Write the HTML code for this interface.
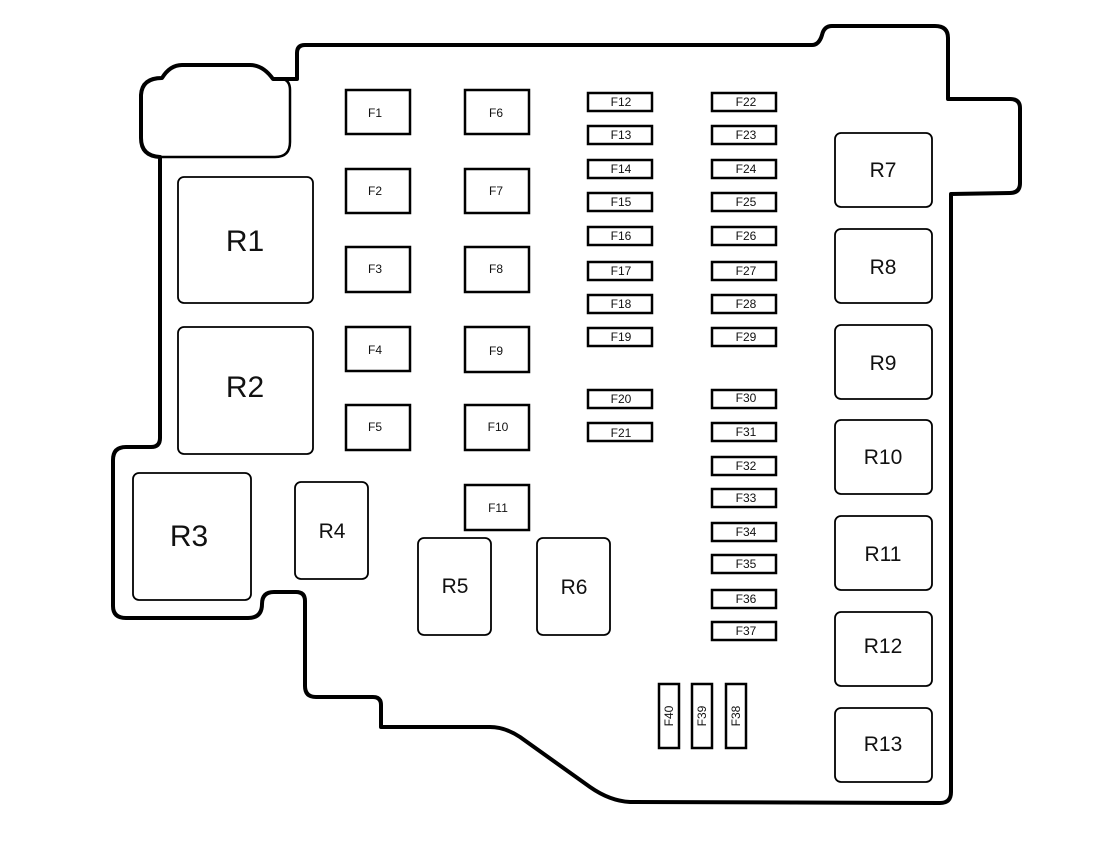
<!DOCTYPE html>
<html><head><meta charset="utf-8"><style>
html,body{margin:0;padding:0;background:#fff;}
svg text{font-family:"Liberation Sans",sans-serif;fill:#111;}
</style></head><body>
<svg width="1107" height="846" viewBox="0 0 1107 846" xmlns="http://www.w3.org/2000/svg">
<g fill="none" stroke="#000" stroke-linejoin="round">
<path stroke-width="4" d="M160 157 L160 438 Q160 447 151 447 L126 447 Q113 447 113 460 L113 606 Q113 618 126 618 L248 618 Q262 618 262 604 Q262 592 274 592 L296 592 Q305 592 305 601 L305 686 Q305 697 316 697 L373 697 Q381 697 381 705 L381 727 L490 727 Q505 727 520 737 L590 787 Q610 801 630 802 L940 803 Q951 803 951 792 L951 194 L1010 193 Q1020 193 1020 183 L1020 108 Q1020 99 1010 99 L948 99 L948 38 Q948 26 935 26 L832 26 Q824 26 822 35 Q819 45 812 45 L305 45 Q297 45 297 53 L297 79 L273 79 Q263 65 250 65 L182 65 Q170 65 162 78 Q142 78 141 95 L141 138 Q141 156 160 157 Z"/>
<path stroke-width="2.5" d="M160 157 L275 157 Q290 157 290 142 L290 90 Q290 80 282 79"/>
</g>
<g fill="#fff" stroke="#000" stroke-width="1.8">
<rect x="178" y="177" width="135" height="126" rx="6"/>
<rect x="178" y="327" width="135" height="127" rx="6"/>
<rect x="133" y="473" width="118" height="127" rx="6"/>
<rect x="295" y="482" width="73" height="97" rx="6"/>
<rect x="418" y="538" width="73" height="97" rx="6"/>
<rect x="537" y="538" width="73" height="97" rx="6"/>
<rect x="835" y="133" width="97" height="74" rx="6"/>
<rect x="835" y="229" width="97" height="74" rx="6"/>
<rect x="835" y="325" width="97" height="74" rx="6"/>
<rect x="835" y="420" width="97" height="74" rx="6"/>
<rect x="835" y="516" width="97" height="74" rx="6"/>
<rect x="835" y="612" width="97" height="74" rx="6"/>
<rect x="835" y="708" width="97" height="74" rx="6"/>
</g>
<g font-size="30" text-anchor="middle">
<text x="245" y="251">R1</text>
<text x="245" y="397">R2</text>
<text x="189" y="546">R3</text>
</g>
<g font-size="21" text-anchor="middle">
<text x="332" y="538">R4</text>
<text x="455" y="593">R5</text>
<text x="574" y="594">R6</text>
<text x="883" y="177">R7</text>
<text x="883" y="274">R8</text>
<text x="883" y="370">R9</text>
<text x="883" y="464">R10</text>
<text x="883" y="561">R11</text>
<text x="883" y="653">R12</text>
<text x="883" y="751">R13</text>
</g>
<g fill="#fff" stroke="#000" stroke-width="2.5">
<rect x="346" y="90" width="64" height="44"/>
<rect x="346" y="169" width="64" height="44"/>
<rect x="346" y="247" width="64" height="45"/>
<rect x="346" y="327" width="64" height="44"/>
<rect x="346" y="405" width="64" height="45"/>
<rect x="465" y="90" width="64" height="44"/>
<rect x="465" y="169" width="64" height="44"/>
<rect x="465" y="247" width="64" height="45"/>
<rect x="465" y="327" width="64" height="45"/>
<rect x="465" y="405" width="64" height="45"/>
<rect x="465" y="485" width="64" height="45"/>
<rect x="588" y="93" width="64" height="18"/>
<rect x="588" y="126" width="64" height="18"/>
<rect x="588" y="160" width="64" height="18"/>
<rect x="588" y="193" width="64" height="18"/>
<rect x="588" y="227" width="64" height="18"/>
<rect x="588" y="262" width="64" height="18"/>
<rect x="588" y="295" width="64" height="18"/>
<rect x="588" y="328" width="64" height="18"/>
<rect x="588" y="390" width="64" height="18"/>
<rect x="588" y="423" width="64" height="18"/>
<rect x="712" y="93" width="64" height="18"/>
<rect x="712" y="126" width="64" height="18"/>
<rect x="712" y="160" width="64" height="18"/>
<rect x="712" y="193" width="64" height="18"/>
<rect x="712" y="227" width="64" height="18"/>
<rect x="712" y="262" width="64" height="18"/>
<rect x="712" y="295" width="64" height="18"/>
<rect x="712" y="328" width="64" height="18"/>
<rect x="712" y="390" width="64" height="18"/>
<rect x="712" y="423" width="64" height="18"/>
<rect x="712" y="457" width="64" height="18"/>
<rect x="712" y="489" width="64" height="18"/>
<rect x="712" y="523" width="64" height="18"/>
<rect x="712" y="555" width="64" height="18"/>
<rect x="712" y="590" width="64" height="18"/>
<rect x="712" y="622" width="64" height="18"/>
<rect x="659" y="684" width="20" height="64"/>
<rect x="692" y="684" width="20" height="64"/>
<rect x="726" y="684" width="20" height="64"/>
</g>
<g font-size="12" text-anchor="middle">
<text x="375" y="117">F1</text>
<text x="375" y="195">F2</text>
<text x="375" y="273">F3</text>
<text x="375" y="354">F4</text>
<text x="375" y="431">F5</text>
<text x="496" y="117">F6</text>
<text x="496" y="195">F7</text>
<text x="496" y="273">F8</text>
<text x="496" y="355">F9</text>
<text x="498" y="431">F10</text>
<text x="498" y="512">F11</text>
<text x="621" y="106">F12</text>
<text x="621" y="139">F13</text>
<text x="621" y="173">F14</text>
<text x="621" y="206">F15</text>
<text x="621" y="240">F16</text>
<text x="621" y="275">F17</text>
<text x="621" y="308">F18</text>
<text x="621" y="341">F19</text>
<text x="621" y="403">F20</text>
<text x="621" y="437">F21</text>
<text x="746" y="106">F22</text>
<text x="746" y="139">F23</text>
<text x="746" y="173">F24</text>
<text x="746" y="206">F25</text>
<text x="746" y="240">F26</text>
<text x="746" y="275">F27</text>
<text x="746" y="308">F28</text>
<text x="746" y="341">F29</text>
<text x="746" y="402">F30</text>
<text x="746" y="436">F31</text>
<text x="746" y="470">F32</text>
<text x="746" y="502">F33</text>
<text x="746" y="536">F34</text>
<text x="746" y="568">F35</text>
<text x="746" y="603">F36</text>
<text x="746" y="635">F37</text>
<text transform="translate(673,716) rotate(-90)">F40</text>
<text transform="translate(706,716) rotate(-90)">F39</text>
<text transform="translate(740,716) rotate(-90)">F38</text>
</g>
</svg>
</body></html>
